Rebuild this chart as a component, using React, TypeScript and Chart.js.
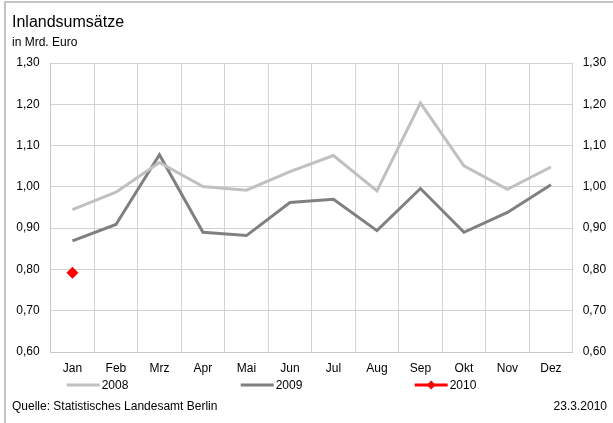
import React, { useEffect, useRef } from 'react';
import { Chart, registerables } from 'chart.js';

Chart.register(...registerables);

const months = ['Jan', 'Feb', 'Mrz', 'Apr', 'Mai', 'Jun', 'Jul', 'Aug', 'Sep', 'Okt', 'Nov', 'Dez'];
const values2008 = [0.945, 0.987, 1.059, 1.001, 0.992, 1.037, 1.076, 0.99, 1.203, 1.051, 0.994, 1.048];
const values2009 = [0.869, 0.909, 1.078, 0.89, 0.882, 0.962, 0.97, 0.894, 0.996, 0.89, 0.938, 1.005];
const values2010 = [0.792, null, null, null, null, null, null, null, null, null, null, null];
const seriesLabels = ['2008', '2009', '2010'];
const yMin = 0.6;
const yMax = 1.3;
const yStep = 0.1;

const FONT = '"Liberation Sans", Arial, sans-serif';

const legendPlugin = {
  id: 'customLegend',
  afterDraw(chart: any) {
    const ctx = chart.ctx;
    const area = chart.chartArea;
    const y = 385;
    ctx.save();
    chart.data.datasets.forEach((ds: any, i: number) => {
      const x = area.left + 16 + i * 174;
      ctx.strokeStyle = ds.borderColor;
      ctx.lineWidth = 3;
      ctx.beginPath();
      ctx.moveTo(x, y);
      ctx.lineTo(x + 33, y);
      ctx.stroke();
      if (ds.pointRadius > 0) {
        ctx.fillStyle = ds.pointBackgroundColor;
        const cx = x + 16.5;
        const r = 4.5;
        ctx.beginPath();
        ctx.moveTo(cx, y - r);
        ctx.lineTo(cx + r, y);
        ctx.lineTo(cx, y + r);
        ctx.lineTo(cx - r, y);
        ctx.closePath();
        ctx.fill();
      }
      ctx.fillStyle = '#000';
      ctx.font = `12px ${FONT}`;
      ctx.textAlign = 'left';
      ctx.textBaseline = 'middle';
      ctx.fillText(ds.label, x + 35, y + 1);
    });
    ctx.restore();
  },
};

const fmt = (v: any) => Number(v).toFixed(2).replace('.', ',');

export default function App() {
  const ref = useRef<HTMLCanvasElement | null>(null);
  useEffect(() => {
    if (!ref.current) return;
    const chart = new Chart(ref.current, {
      type: 'line',
      data: {
        labels: months,
        datasets: [
          {
            label: seriesLabels[0],
            data: values2008,
            borderColor: '#c0c0c0',
            backgroundColor: '#c0c0c0',
            borderWidth: 3,
            pointRadius: 0,
            tension: 0,
            yAxisID: 'y',
          },
          {
            label: seriesLabels[1],
            data: values2009,
            borderColor: '#808080',
            backgroundColor: '#808080',
            borderWidth: 3,
            pointRadius: 0,
            tension: 0,
            yAxisID: 'y',
          },
          {
            label: seriesLabels[2],
            data: values2010,
            borderColor: '#ff0000',
            backgroundColor: '#ff0000',
            pointBackgroundColor: '#ff0000',
            pointBorderColor: '#ff0000',
            pointBorderWidth: 0,
            borderWidth: 3,
            pointRadius: 6,
            pointStyle: 'rectRot',
            yAxisID: 'y',
          },
        ],
      },
      options: {
        animation: false,
        responsive: false,
        devicePixelRatio: 1,
        layout: { padding: { top: 63, left: 8, right: 0, bottom: 0 } },
        plugins: {
          legend: { display: false },
          tooltip: { enabled: false },
          title: { display: false },
        },
        scales: {
          x: {
            offset: true,
            grid: { offset: true, color: '#d2d2d2', lineWidth: 1, drawTicks: false },
            border: { color: '#c8c8c8' },
            ticks: { color: '#000', font: { family: FONT, size: 12 }, padding: 9, maxRotation: 0 },
            afterFit: (s: any) => {
              s.height = 71;
            },
          },
          y: {
            position: 'left',
            min: yMin,
            max: yMax,
            grid: { color: '#d2d2d2', lineWidth: 1, drawTicks: false },
            border: { color: '#c8c8c8' },
            ticks: {
              stepSize: yStep,
              color: '#000',
              font: { family: FONT, size: 12 },
              padding: 11,
              callback: fmt,
            },
            afterFit: (s: any) => {
              s.width = 42.7;
            },
          },
          y2: {
            position: 'right',
            min: yMin,
            max: yMax,
            grid: { display: false, drawTicks: false },
            border: { display: false },
            ticks: {
              stepSize: yStep,
              color: '#000',
              font: { family: FONT, size: 12 },
              padding: 10,
              callback: fmt,
            },
            afterFit: (s: any) => {
              s.width = 40.3;
            },
          },
        },
      },
      plugins: [legendPlugin],
    });
    return () => chart.destroy();
  }, []);

  return (
    <div
      style={{
        position: 'fixed',
        left: 0,
        top: 0,
        width: 613,
        height: 423,
        background: '#fff',
        fontFamily: FONT,
        color: '#000',
      }}
    >
      <div
        style={{
          position: 'absolute',
          left: 4,
          top: 1,
          right: 0,
          bottom: 0,
          borderTop: '2px solid #c4c4c4',
          borderLeft: '2px solid #c4c4c4',
        }}
      />
      <canvas ref={ref} width={613} height={423} style={{ position: 'absolute', left: 0, top: 0 }} />
      <div style={{ position: 'absolute', left: 12, top: 12, fontSize: 16, lineHeight: '20px' }}>
        Inlandsumsätze
      </div>
      <div style={{ position: 'absolute', left: 12, top: 35, fontSize: 12, lineHeight: '14px' }}>in Mrd. Euro</div>
      <div style={{ position: 'absolute', left: 12, top: 399, fontSize: 12, lineHeight: '14px' }}>
        Quelle: Statistisches Landesamt Berlin
      </div>
      <div style={{ position: 'absolute', right: 6, top: 399, fontSize: 12, lineHeight: '14px' }}>23.3.2010</div>
    </div>
  );
}
